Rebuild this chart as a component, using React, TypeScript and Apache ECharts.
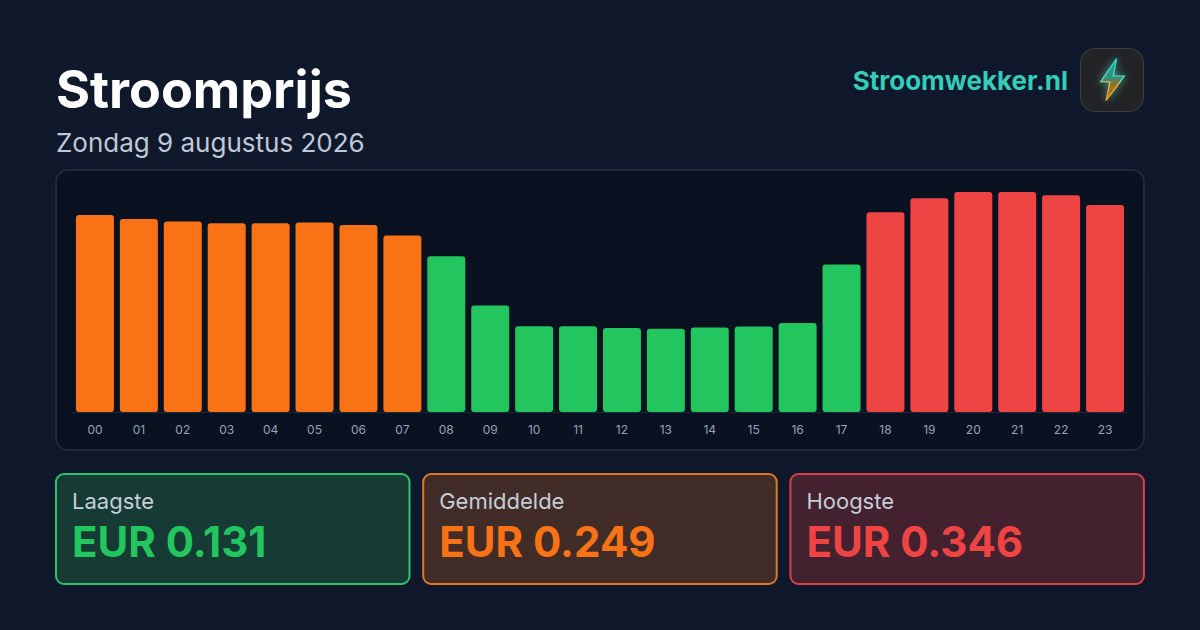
import React, { useEffect, useRef } from "react";
import * as echarts from "echarts";

const hours = ["00","01","02","03","04","05","06","07","08","09","10","11","12","13","14","15","16","17","18","19","20","21","22","23"];
const prices = [0.310,0.3035,0.2996,0.297,0.297,0.298,0.294,0.2776,0.245,0.1675,0.135,0.135,0.132,0.131,0.133,0.1345,0.14,0.232,0.314,0.336,0.346,0.346,0.341,0.3255];
const bands = ["o","o","o","o","o","o","o","o","g","g","g","g","g","g","g","g","g","g","r","r","r","r","r","r"];
const bandColors: Record<string,string> = { g: "#22c55e", o: "#f97316", r: "#ef4444" };
const statLabels = ["Laagste","Gemiddelde","Hoogste"];
const statValues = ["EUR 0.131","EUR 0.249","EUR 0.346"];
const statColors = ["#22c55e","#f97316","#ef4444"];
const statStrokes = ["#2cc36a","#dd7a28","#d8434a"];
const statFills = ["#163a34","#412c27","#43212f"];
const FONT = "Inter";

export default function App() {
  const ref = useRef<HTMLDivElement>(null);
  useEffect(() => {
    document.body.style.margin = "0";
    const chart = echarts.init(ref.current!, undefined, { renderer: "svg" });
    const cards = statLabels.flatMap((label, i) => {
      const x = 56 + i * 367.2;
      return [
        { type: "rect", z: 0, shape: { x, y: 474, width: 353.5, height: 110, r: 8 }, style: { fill: statFills[i], stroke: statStrokes[i], lineWidth: 2 } },
        { type: "text", z: 1, x: x + 16, y: 500.5, style: { text: label, fill: "#c5ced9", font: `400 22px ${FONT}`, textVerticalAlign: "middle" } },
        { type: "text", z: 1, x: x + 16, y: 541, style: { text: statValues[i], fill: statColors[i], font: `700 42px ${FONT}`, textVerticalAlign: "middle" } },
      ];
    });
    chart.setOption({
      animation: false,
      backgroundColor: new echarts.graphic.LinearGradient(0, 0, 1, 1, [
        { offset: 0, color: "#0f192b" },
        { offset: 1, color: "#10172a" },
      ]),
      grid: { left: 73, right: 73, top: 192, bottom: 218 },
      xAxis: {
        type: "category",
        data: hours,
        axisTick: { show: false },
        axisLine: { lineStyle: { color: "#1e293b", width: 1 } },
        axisLabel: { color: "#94a3b8", fontSize: 12, fontFamily: FONT, margin: 11 },
      },
      yAxis: { type: "value", min: 0, max: 0.346, show: false },
      series: [{
        type: "bar",
        barWidth: 38,
        z: 3,
        data: prices.map((v, i) => ({ value: v, itemStyle: { color: bandColors[bands[i]], borderRadius: 3 } })),
      }],
      graphic: [
        { type: "rect", z: 0, shape: { x: 56, y: 170, width: 1088, height: 280, r: 12 }, style: { fill: "#0a1120", stroke: "#1e293b", lineWidth: 2 } },
        { type: "text", z: 1, x: 56, y: 89.5, style: { text: "Stroomprijs", fill: "#ffffff", font: `700 52px ${FONT}`, textVerticalAlign: "middle" } },
        { type: "text", z: 1, x: 56, y: 142, style: { text: "Zondag 9 augustus 2026", fill: "#bfc8d6", font: `400 26px ${FONT}`, textVerticalAlign: "middle" } },
        { type: "text", z: 1, x: 1068, y: 80.5, style: { text: "Stroomwekker.nl", fill: "#33cdb9", font: `700 26px ${FONT}`, textAlign: "right", textVerticalAlign: "middle" } },
        { type: "rect", z: 1, shape: { x: 1080.5, y: 48.5, width: 63, height: 63, r: 14 }, style: { fill: "#222325", stroke: "#3a3d42", lineWidth: 1 } },
        {
          type: "polygon", z: 2,
          shape: { points: [[1116.7,58.3],[1100.7,81.7],[1110,82],[1106,100.7],[1124.3,76],[1113.3,76]] },
          style: {
            fill: new echarts.graphic.LinearGradient(0, 0, 0, 1, [
              { offset: 0, color: "#1fa89c" }, { offset: 0.45, color: "#2f8f80" }, { offset: 0.6, color: "#8f7030" }, { offset: 1, color: "#a87825" },
            ]),
            stroke: new echarts.graphic.LinearGradient(0, 0, 0, 1, [
              { offset: 0, color: "#2dd4bf" }, { offset: 0.5, color: "#5eead4" }, { offset: 0.62, color: "#fbbf24" }, { offset: 1, color: "#f59e0b" },
            ]),
            lineWidth: 1.2, shadowBlur: 8, shadowColor: "rgba(80,200,170,0.7)",
          },
        },
        ...cards,
      ],
    });
    return () => chart.dispose();
  }, []);
  return <div ref={ref} style={{ width: 1200, height: 630 }} />;
}
